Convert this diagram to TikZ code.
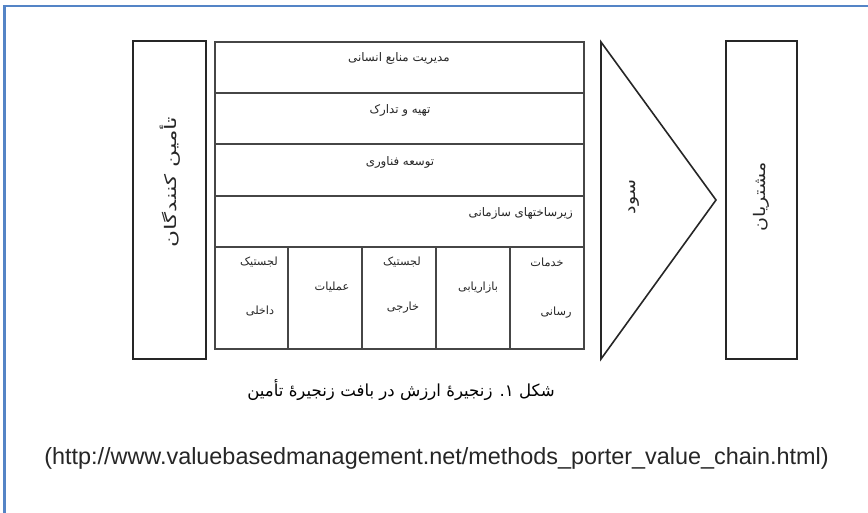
\documentclass[tikz,border=0pt]{standalone}
\usepackage{fontspec}
\setmainfont{Liberation Sans}
\newfontfamily\arabicfont[Script=Arabic]{DejaVu Sans}
\TeXXeTstate=1
\definecolor{frameblue}{RGB}{84,132,198}
\definecolor{linegray}{RGB}{70,70,70}
\newcommand{\fa}[1]{{\arabicfont\beginR #1\endR}}
\begin{document}
\begin{tikzpicture}[x=1pt,y=-1pt,
  sidebox/.style={draw=black!85,line width=1.8pt,rectangle,inner sep=0pt},
  rowtxt/.style={font=\fontsize{11.8}{14}\selectfont,inner sep=0pt,text=black!85},
  celltxt/.style={font=\fontsize{11.3}{13}\selectfont,inner sep=0pt,text=black!85},
  sidetxt/.style={font=\fontsize{16}{19}\selectfont,inner sep=0pt,rotate=90,text=black!85}]
\useasboundingbox (0,0) rectangle (868,512);
\fill[white] (0,0) rectangle (868,512);
% blue frame (top and left only)
\draw[frameblue,line width=2.6pt] (4.5,515) -- (4.5,6) -- (870,6);

% left box: suppliers
\node[sidebox,minimum width=318pt,minimum height=73pt,rotate=90] (supp) at (169.5,200) {};
\node[sidetxt] (supptxt) at (170,182) {\scalebox{1.45}[1]{\fa{تأمین کنندگان}}};

% main block
\coordinate (mtl) at (215,42);
\coordinate (mbr) at (584,349);
\draw[linegray,line width=1.1pt] (mtl) rectangle (mbr);
\foreach \yy in {93,144,196,247} \draw[linegray,line width=1.1pt] (215,\yy) -- (584,\yy);
\foreach \xx in {288,362,436,510} \draw[linegray,line width=1.1pt] (\xx,247) -- (\xx,349);

\node[rowtxt] (hr) at (399,58) {\fa{مدیریت منابع انسانی}};
\node[rowtxt] (proc) at (400,110) {\fa{تهیه و تدارک}};
\node[rowtxt] (tech) at (400,162) {\fa{توسعه فناوری}};
\node[rowtxt,anchor=east] (infra) at (573,213) {\fa{زیرساختهای سازمانی}};

\node[celltxt,anchor=east] (in1) at (278,262) {\fa{لجستیک}};
\node[celltxt] (in2) at (260,311) {\fa{داخلی}};
\node[celltxt] (ops) at (332,287) {\fa{عملیات}};
\node[celltxt] (out1) at (402,262) {\fa{لجستیک}};
\node[celltxt] (out2) at (403,308) {\fa{خارجی}};
\node[celltxt] (mkt) at (478,288) {\fa{بازاریابی}};
\node[celltxt] (srv1) at (547,262) {\fa{خدمات}};
\node[celltxt] (srv2) at (556,313) {\fa{رسانی}};

% margin triangle
\coordinate (t1) at (601,42);
\coordinate (t2) at (716,200);
\coordinate (t3) at (601,359);
\draw[black!85,line width=1.6pt,line join=miter] (t1) -- (t2) -- (t3) -- cycle;
\node[sidetxt] (margin) at (634,197) {\scalebox{1.19}[1]{\fa{سود}}};

% right box: customers
\node[sidebox,minimum width=318pt,minimum height=71pt,rotate=90] (cust) at (761.5,200) {};
\node[sidetxt] (custtxt) at (761,197) {\scalebox{1.19}[1]{\fa{مشتریان}}};

% caption
\node[font=\fontsize{16.6}{19}\selectfont,inner sep=0pt] (cap) at (401,390) {\fa{شکل ۱. زنجیرهٔ ارزش در بافت زنجیرهٔ تأمین}};
\node[font=\fontsize{23.4}{26}\selectfont,inner sep=0pt,text=black!85] (url) at (436.5,458) {(http://www.valuebasedmanagement.net/methods\_porter\_value\_chain.html)};
\end{tikzpicture}
\end{document}
